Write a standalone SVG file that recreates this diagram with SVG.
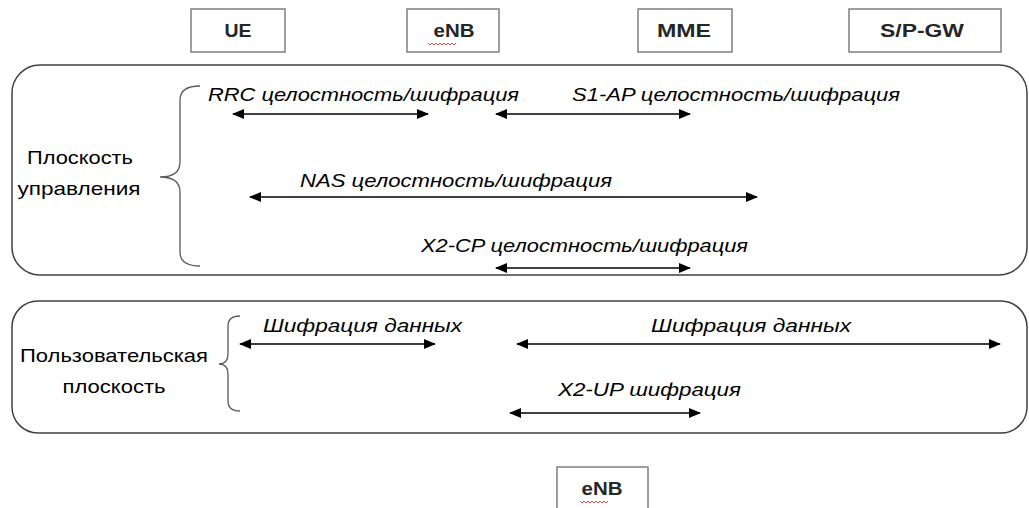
<svg xmlns="http://www.w3.org/2000/svg" width="1029" height="508" viewBox="0 0 1029 508">
<style>
.box{fill:#fff;stroke:#7f7f7f;stroke-width:1.5}
.panel{fill:none;stroke:#404040;stroke-width:1.5}
.brace{fill:none;stroke:#595959;stroke-width:1.3}
.ent{font-family:"Liberation Sans",Arial,sans-serif;font-size:18px;font-weight:bold;fill:#262626;text-anchor:middle}
.lbl{font-family:"Liberation Sans",Arial,sans-serif;font-size:18px;font-style:italic;fill:#000}
.side{font-family:"Liberation Sans",Arial,sans-serif;font-size:19px;fill:#000;text-anchor:middle}
.arr{stroke:#000;stroke-width:1.6;fill:none;marker-start:url(#ah);marker-end:url(#ah)}
.sq{fill:none;stroke:#e03030;stroke-width:0.9}
</style>
<defs>
<marker id="ah" viewBox="0 0 12 10" refX="11" refY="5" markerWidth="12" markerHeight="10" markerUnits="userSpaceOnUse" orient="auto-start-reverse">
<path d="M0,0 L12,5 L0,10 Z" fill="#000"/>
</marker>
</defs>

<g id="node-ue">
<rect class="box" x="191" y="9" width="94" height="43"/>
<text class="ent" x="238" y="37" textLength="27" lengthAdjust="spacingAndGlyphs">UE</text>
</g>
<g id="node-enb">
<rect class="box" x="407" y="9" width="92" height="43"/>
<text class="ent" x="454" y="37" textLength="41" lengthAdjust="spacingAndGlyphs">eNB</text>
<path class="sq" d="M428,43 l2,2 l2,-2 l2,2 l2,-2 l2,2 l2,-2 l2,2 l2,-2 l2,2 l2,-2 l2,2 l2,-2 l2,2 l2,-2"/>
</g>
<g id="node-mme">
<rect class="box" x="638" y="9" width="94" height="43"/>
<text class="ent" x="684" y="37" textLength="54" lengthAdjust="spacingAndGlyphs">MME</text>
</g>
<g id="node-spgw">
<rect class="box" x="849" y="9" width="152" height="43"/>
<text class="ent" x="922" y="37" textLength="84" lengthAdjust="spacingAndGlyphs">S/P-GW</text>
</g>

<g id="control-plane">
<rect class="panel" x="12" y="65" width="1015" height="210" rx="28" ry="28"/>
<text class="side" x="80" y="164" textLength="106" lengthAdjust="spacingAndGlyphs">Плоскость</text>
<text class="side" x="79" y="195" textLength="123" lengthAdjust="spacingAndGlyphs">управления</text>
<path class="brace" d="M200,86 Q180,86 180,100 L180,162 Q180,177 160,177 Q180,177 180,192 L180,252 Q180,266 200,266"/>
</g>

<g id="user-plane">
<rect class="panel" x="12" y="301" width="1015" height="132" rx="26" ry="26"/>
<text class="side" x="114" y="362" textLength="188" lengthAdjust="spacingAndGlyphs">Пользовательская</text>
<text class="side" x="114" y="393" textLength="103" lengthAdjust="spacingAndGlyphs">плоскость</text>
<path class="brace" d="M240,316 Q228,316 228,326 L228,354 Q228,364 219,364 Q228,364 228,374 L228,401 Q228,411 240,411"/>
</g>

<g id="node-enb2">
<rect class="box" x="557" y="467" width="91" height="50"/>
<text class="ent" x="602" y="495" textLength="41" lengthAdjust="spacingAndGlyphs">eNB</text>
<path class="sq" d="M580,501 l2,2 l2,-2 l2,2 l2,-2 l2,2 l2,-2 l2,2 l2,-2 l2,2 l2,-2 l2,2 l2,-2 l2,2 l2,-2"/>
</g>

<g id="connectors">
<line class="arr" x1="233" y1="114" x2="428" y2="114"/>
<line class="arr" x1="496" y1="114" x2="690" y2="114"/>
<line class="arr" x1="250" y1="197" x2="757" y2="197"/>
<line class="arr" x1="496" y1="268" x2="690" y2="268"/>
<line class="arr" x1="240" y1="344" x2="435" y2="344"/>
<line class="arr" x1="517" y1="344" x2="1000" y2="344"/>
<line class="arr" x1="510" y1="413" x2="700" y2="413"/>
</g>

<g id="labels">
<text class="lbl" x="208" y="101" textLength="311" lengthAdjust="spacingAndGlyphs">RRC целостность/шифрация</text>
<text class="lbl" x="572" y="101" textLength="328" lengthAdjust="spacingAndGlyphs">S1-AP целостность/шифрация</text>
<text class="lbl" x="300" y="187" textLength="312" lengthAdjust="spacingAndGlyphs">NAS целостность/шифрация</text>
<text class="lbl" x="421" y="252" textLength="327" lengthAdjust="spacingAndGlyphs">X2-CP целостность/шифрация</text>
<text class="lbl" x="263" y="332" textLength="199" lengthAdjust="spacingAndGlyphs">Шифрация данных</text>
<text class="lbl" x="651" y="332" textLength="200" lengthAdjust="spacingAndGlyphs">Шифрация данных</text>
<text class="lbl" x="558" y="396" textLength="183" lengthAdjust="spacingAndGlyphs">X2-UP шифрация</text>
</g>
</svg>
